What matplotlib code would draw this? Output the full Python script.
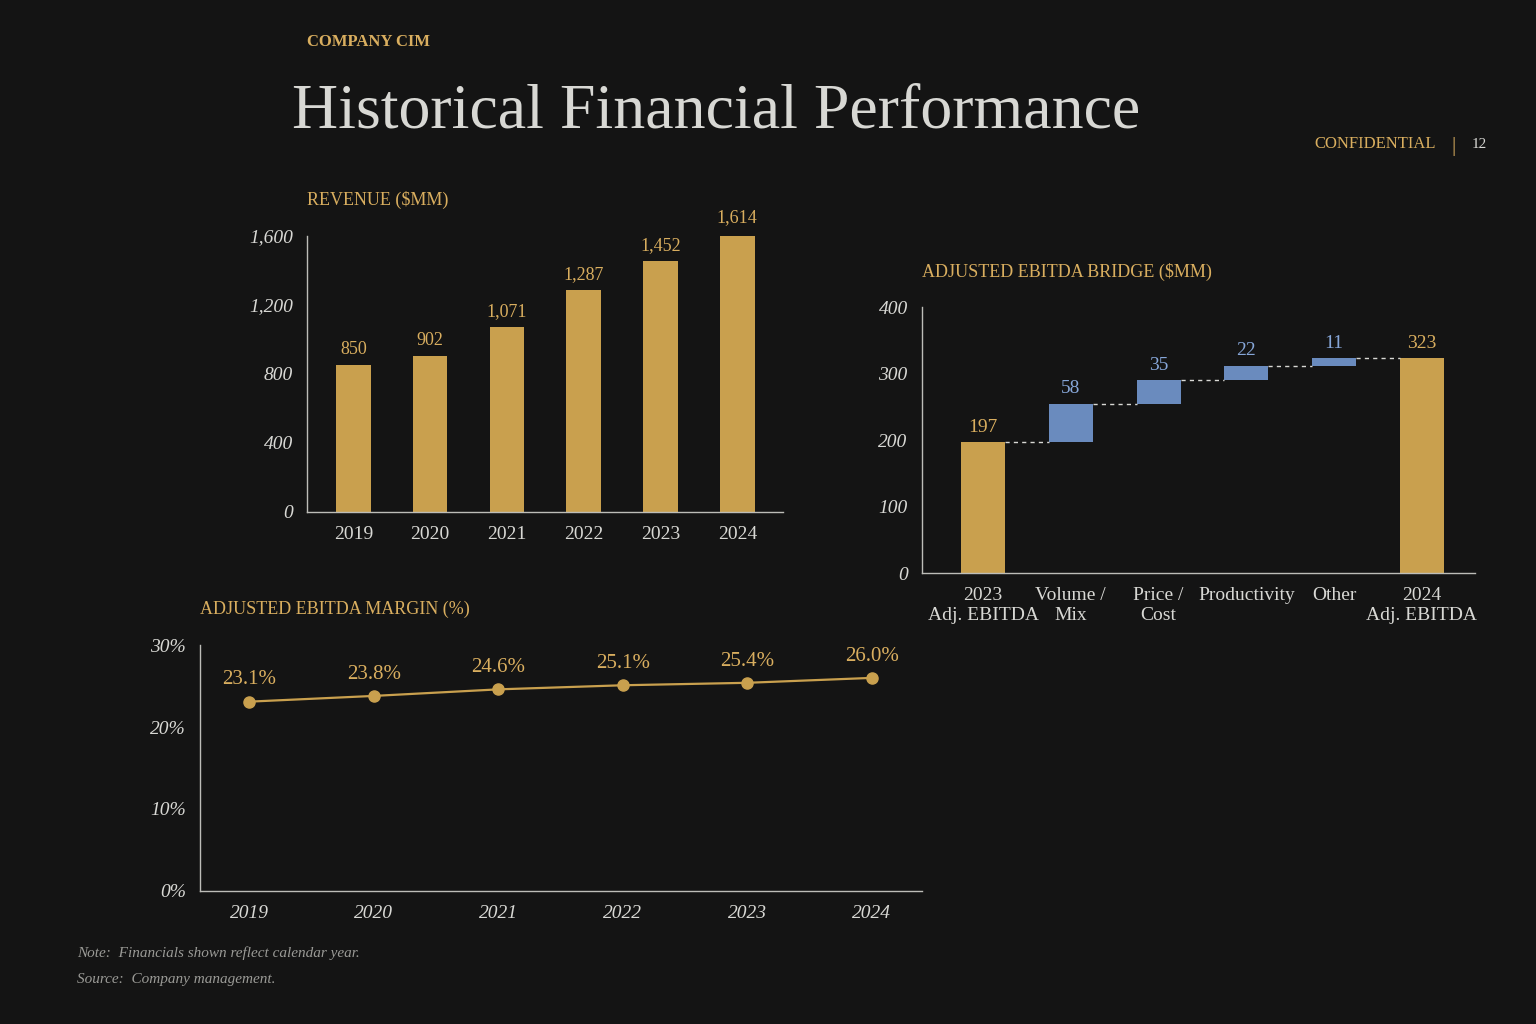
import matplotlib.pyplot as plt
import numpy as np

# colours
BG = '#141414'
GOLD = '#C9A04E'
GOLD_TXT = '#D9AE5F'
BLUE = '#6A8BBE'
BLUE_TXT = '#86A6D8'
GREY = '#D8D8D4'
AXIS = '#BDBDB8'

plt.rcParams['font.family'] = ['Liberation Serif', 'DejaVu Serif']

# data
years = ['2019', '2020', '2021', '2022', '2023', '2024']
revenue = [850, 902, 1071, 1287, 1452, 1614]
revenue_labels = ['850', '902', '1,071', '1,287', '1,452', '1,614']

margin = [23.1, 23.8, 24.6, 25.1, 25.4, 26.0]

bridge_cats = ['2023\nAdj. EBITDA', 'Volume /\nMix', 'Price /\nCost', 'Productivity', 'Other', '2024\nAdj. EBITDA']
ebitda_2023 = 197
bridge_deltas = [58, 35, 22, 11]
ebitda_2024 = 323

fig = plt.figure(figsize=(15.36, 10.24), dpi=100, facecolor=BG)

# header
fig.text(0.20, 0.955, 'COMPANY CIM', color=GOLD_TXT, fontsize=12, fontweight='bold')
fig.text(0.19, 0.875, 'Historical Financial Performance', color=GREY, fontsize=46)
fig.text(0.935, 0.855, 'CONFIDENTIAL', color=GOLD_TXT, fontsize=12, ha='right')
fig.text(0.945, 0.853, '|', color=GOLD_TXT, fontsize=15)
fig.text(0.958, 0.855, '12', color=GREY, fontsize=11)


def style_axes(ax):
    ax.set_facecolor(BG)
    for s in ['top', 'right']:
        ax.spines[s].set_visible(False)
    for s in ['left', 'bottom']:
        ax.spines[s].set_color(AXIS)
        ax.spines[s].set_linewidth(1.0)
    ax.tick_params(length=0, colors=GREY, labelsize=14, pad=10)
    for lab in ax.get_yticklabels():
        lab.set_fontstyle('italic')


# revenue chart
ax1 = fig.add_axes([0.20, 0.50, 0.31, 0.27])
x = np.arange(len(years))
ax1.bar(x, revenue, width=0.45, color=GOLD)
for xi, v, t in zip(x, revenue, revenue_labels):
    ax1.text(xi, v + 40, t, ha='center', va='bottom', color=GOLD_TXT, fontsize=13)
ax1.set_ylim(0, 1600)
ax1.set_yticks([0, 400, 800, 1200, 1600])
ax1.set_yticklabels(['0', '400', '800', '1,200', '1,600'])
ax1.set_xticks(x)
ax1.set_xticklabels(years, fontsize=15)
ax1.set_xlim(-0.6, 5.6)
style_axes(ax1)
fig.text(0.20, 0.80, 'REVENUE ($MM)', color=GOLD_TXT, fontsize=13)

# ebitda bridge
ax2 = fig.add_axes([0.60, 0.44, 0.36, 0.26])
bx = np.arange(len(bridge_cats))
ax2.bar(bx[0], ebitda_2023, width=0.5, color=GOLD)
ax2.text(bx[0], ebitda_2023 + 10, str(ebitda_2023), ha='center', va='bottom', color=GOLD_TXT, fontsize=14)
running = ebitda_2023
prev_top = ebitda_2023
for i, d in enumerate(bridge_deltas):
    xi = bx[i + 1]
    ax2.bar(xi, d, bottom=running, width=0.5, color=BLUE)
    ax2.plot([bx[i] + 0.25, xi - 0.25], [prev_top, running], color=GREY, lw=1, ls=(0, (3, 3)))
    ax2.text(xi, running + d + 10, str(d), ha='center', va='bottom', color=BLUE_TXT, fontsize=14)
    running += d
    prev_top = running
ax2.plot([bx[4] + 0.25, bx[5] - 0.25], [running, running], color=GREY, lw=1, ls=(0, (3, 3)))
ax2.bar(bx[5], ebitda_2024, width=0.5, color=GOLD)
ax2.text(bx[5], ebitda_2024 + 10, str(ebitda_2024), ha='center', va='bottom', color=GOLD_TXT, fontsize=14)
ax2.set_ylim(0, 400)
ax2.set_yticks([0, 100, 200, 300, 400])
ax2.set_xticks(bx)
ax2.set_xticklabels(bridge_cats, fontsize=12.5)
ax2.set_xlim(-0.7, 5.6)
style_axes(ax2)
fig.text(0.60, 0.73, 'ADJUSTED EBITDA BRIDGE ($MM)', color=GOLD_TXT, fontsize=13)

# margin line
ax3 = fig.add_axes([0.13, 0.13, 0.47, 0.24])
mx = np.arange(len(years))
ax3.plot(mx, margin, color=GOLD, lw=1.6, marker='o', markersize=8)
for xi, v in zip(mx, margin):
    ax3.text(xi, v + 1.5, f'{v:.1f}%', ha='center', va='bottom', color=GOLD_TXT, fontsize=15)
ax3.set_ylim(0, 30)
ax3.set_yticks([0, 10, 20, 30])
ax3.set_yticklabels(['0%', '10%', '20%', '30%'])
ax3.set_xticks(mx)
ax3.set_xticklabels(years, fontsize=15, fontstyle='italic')
ax3.set_xlim(-0.4, 5.4)
style_axes(ax3)
fig.text(0.13, 0.40, 'ADJUSTED EBITDA MARGIN (%)', color=GOLD_TXT, fontsize=13)

# notes
fig.text(0.05, 0.065, 'Note:  Financials shown reflect calendar year.', color='#9A9A96', fontsize=11, fontstyle='italic')
fig.text(0.05, 0.04, 'Source:  Company management.', color='#9A9A96', fontsize=11, fontstyle='italic')

fig.savefig('out.png', dpi=100, facecolor=BG)
